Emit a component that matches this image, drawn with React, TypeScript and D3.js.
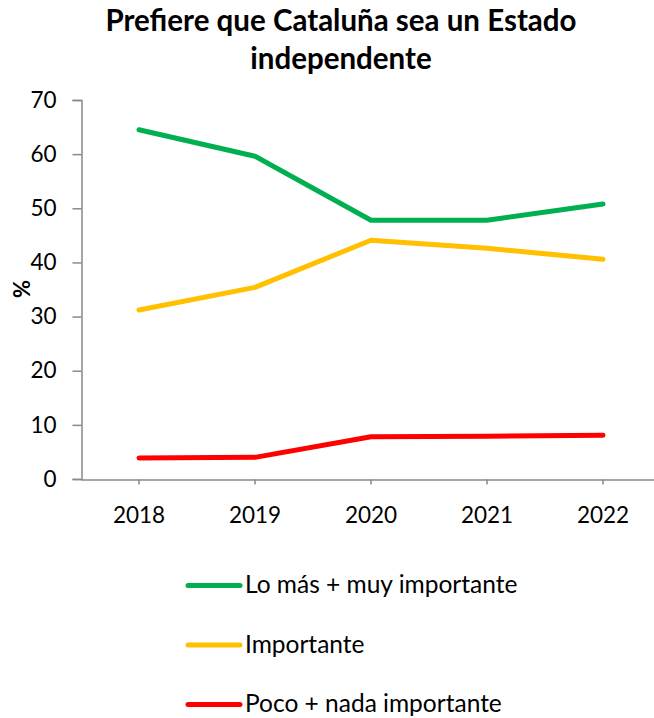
import React, { useEffect, useRef } from 'react';
import * as d3 from 'd3';

const years = ['2018', '2019', '2020', '2021', '2022'];
const muyImportante = [64.5, 59.6, 47.8, 47.8, 50.8];
const importante = [31.2, 35.4, 44.1, 42.6, 40.6];
const pocoNada = [3.9, 4.0, 7.8, 7.9, 8.1];
const seriesNames = ['Lo más + muy importante', 'Importante', 'Poco + nada importante'];
const seriesColors = ['#00b050', '#ffc000', '#ff0000'];
const yTicks = [0, 10, 20, 30, 40, 50, 60, 70];

const FONT = 'Lato, "Open Sans", sans-serif';

const App = () => {
  const svgRef: any = useRef();

  useEffect(() => {
    const width = 654;
    const height = 718;
    const svg = d3.select(svgRef.current);
    svg.selectAll('*').remove();
    svg.attr('width', width).attr('height', height);

    const x = d3.scaleBand().domain(years).range([81, 661]);
    const y = d3.scaleLinear().domain([0, 70]).range([479, 100]);

    // title
    svg.append('text')
      .attr('x', 341).attr('y', 31)
      .attr('text-anchor', 'middle')
      .attr('font-family', FONT).attr('font-weight', 'bold').attr('font-size', 29.5)
      .text('Prefiere que Cataluña sea un Estado');
    svg.append('text')
      .attr('x', 341).attr('y', 68.5)
      .attr('text-anchor', 'middle')
      .attr('font-family', FONT).attr('font-weight', 'bold').attr('font-size', 29.5)
      .text('independente');

    // y axis
    const yAxis = svg.append('g')
      .attr('transform', 'translate(81.5,0)')
      .call(d3.axisLeft(y).tickValues(yTicks).tickSize(9).tickPadding(16).tickFormat(d3.format('d')));
    yAxis.select('.domain').attr('stroke', '#898989').attr('stroke-width', 1.5);
    yAxis.selectAll('.tick line').attr('stroke', '#898989').attr('stroke-width', 1.5);
    yAxis.selectAll('.tick text')
      .attr('font-family', FONT).attr('font-size', 22.5).attr('fill', '#000');

    // x axis
    const xAxis = svg.append('g')
      .attr('transform', 'translate(0,479.5)')
      .call(d3.axisBottom(x).tickSize(5).tickSizeOuter(0));
    xAxis.select('.domain').attr('stroke', '#898989').attr('stroke-width', 1.5);
    xAxis.selectAll('.tick line').attr('stroke', '#898989').attr('stroke-width', 1.5);
    xAxis.selectAll('.tick text')
      .attr('y', 43).attr('dy', null)
      .attr('font-family', FONT).attr('font-size', 22.5).attr('fill', '#000');

    // y axis title
    svg.append('text')
      .attr('transform', 'translate(30,289) rotate(-90)')
      .attr('text-anchor', 'middle')
      .attr('font-family', FONT).attr('font-weight', 'bold').attr('font-size', 22)
      .text('%');

    const line = d3.line<number>()
      .x((_, i) => (x(years[i]) as number) + x.bandwidth() / 2)
      .y((d) => y(d));

    const allSeries = [muyImportante, importante, pocoNada];
    allSeries.forEach((s, i) => {
      svg.append('path')
        .datum(s)
        .attr('d', line)
        .attr('fill', 'none')
        .attr('stroke', seriesColors[i])
        .attr('stroke-width', 5)
        .attr('stroke-linecap', 'round')
        .attr('stroke-linejoin', 'round');
    });

    // legend
    const legend = svg.append('g');
    seriesNames.forEach((name, i) => {
      const ly = 585.5 + i * 59.5;
      legend.append('line')
        .attr('x1', 188).attr('x2', 240)
        .attr('y1', ly).attr('y2', ly)
        .attr('stroke', seriesColors[i])
        .attr('stroke-width', 5)
        .attr('stroke-linecap', 'round');
      legend.append('text')
        .attr('x', 245).attr('y', ly + 7.5)
        .attr('font-family', FONT).attr('font-size', 24.5)
        .text(name);
    });
  }, []);

  return <svg ref={svgRef} style={{ position: 'absolute', left: 0, top: 0 }}></svg>;
};

export default App;
